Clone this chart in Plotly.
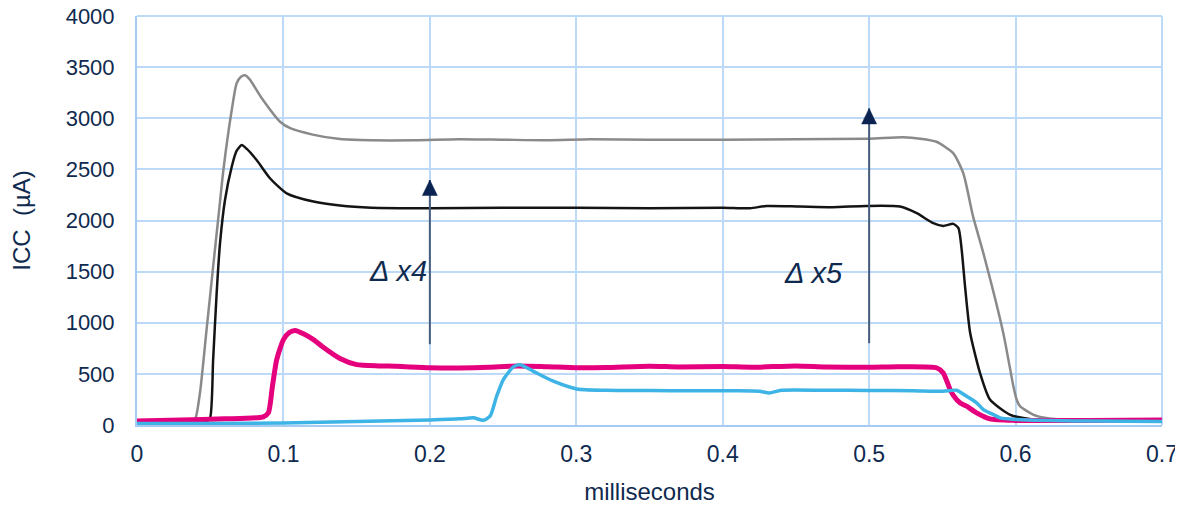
import plotly.graph_objects as go

# ---- data ----
gray_x = [0, 0.02, 0.036, 0.0396, 0.043, 0.0475, 0.052, 0.0555, 0.059, 0.0647, 0.068, 0.071, 0.0738, 0.077,
          0.085, 0.0977, 0.105, 0.12, 0.1386, 0.16, 0.19, 0.22, 0.25, 0.28, 0.31, 0.35, 0.4, 0.45, 0.5,
          0.523, 0.535, 0.546, 0.5575, 0.5643, 0.571, 0.578, 0.5916, 0.5985, 0.6007, 0.603, 0.612, 0.62,
          0.63, 0.66, 0.7]
gray_y = [30, 30, 35, 54, 314, 930, 1550, 2020, 2494, 3080, 3340, 3405, 3421, 3380,
          3200, 2966, 2900, 2840, 2796, 2785, 2785, 2795, 2790, 2785, 2795, 2790, 2790, 2795, 2800,
          2813, 2800, 2770, 2657, 2462, 2038, 1681, 900, 379, 249, 184, 102, 70,
          54, 45, 40]

black_x = [0, 0.03, 0.047, 0.0499, 0.052, 0.0544, 0.0567, 0.0601, 0.0647, 0.068, 0.0715, 0.075, 0.0817,
           0.0908, 0.1022, 0.1205, 0.1386, 0.16, 0.2, 0.25, 0.3, 0.35, 0.4, 0.4186, 0.43, 0.4528, 0.475,
           0.498, 0.521, 0.5325, 0.5438, 0.5506, 0.5575, 0.561, 0.5632, 0.5655, 0.569, 0.5757, 0.5825,
           0.596, 0.612, 0.65, 0.7]
black_y = [30, 30, 35, 70, 640, 1290, 1778, 2201, 2526, 2680, 2738, 2700, 2591,
           2413, 2266, 2185, 2146, 2125, 2120, 2125, 2125, 2120, 2125, 2120, 2142, 2136, 2130,
           2142, 2136, 2071, 1974, 1947, 1967, 1925, 1713, 1355, 900, 510, 249,
           102, 54, 42, 40]

pink_x = [0, 0.03, 0.06, 0.0863, 0.0897, 0.0925, 0.0954, 0.1, 0.104, 0.108, 0.114, 0.1205, 0.1272,
          0.1386, 0.15, 0.165, 0.1773, 0.2, 0.22, 0.24, 0.26, 0.28, 0.3, 0.32, 0.35, 0.37, 0.4, 0.42,
          0.45, 0.47, 0.5, 0.52, 0.546, 0.5506, 0.5552, 0.5575, 0.562, 0.5666, 0.5734, 0.5825, 0.6,
          0.65, 0.7]
pink_y = [40, 50, 60, 80, 119, 380, 639, 835, 905, 925, 890, 835, 760,
          650, 590, 578, 574, 560, 558, 565, 578, 570, 560, 562, 575, 568, 572, 565,
          578, 568, 565, 570, 560, 509, 350, 290, 217, 184, 119, 60, 45,
          45, 50]

cyan_x = [0, 0.05, 0.1, 0.15, 0.2, 0.2206, 0.2297, 0.2365, 0.2411, 0.2456, 0.2502, 0.257, 0.2616,
          0.2707, 0.2843, 0.3003, 0.32, 0.35, 0.38, 0.41, 0.425, 0.432, 0.44, 0.47, 0.5, 0.53, 0.5506,
          0.5597, 0.5666, 0.5734, 0.578, 0.5848, 0.5894, 0.6007, 0.65, 0.7]
cyan_y = [15, 15, 20, 35, 50, 60, 70, 47, 86, 281, 444, 568, 590,
          525, 428, 353, 340, 337, 335, 335, 330, 314, 340, 340, 338, 335, 330,
          340, 281, 217, 151, 102, 70, 54, 38, 35]

# arrows and their labels
arrow_x = [0.2, 0.5]
arrow_y_start = [790, 800]
arrow_y_tip = [2396, 3096]
label_text = ["Δ x4", "Δ x5"]
label_x = [0.178, 0.4617]
label_y = [1508, 1488]

x_ticks = [0, 0.1, 0.2, 0.3, 0.4, 0.5, 0.6, 0.7]
y_ticks = [0, 500, 1000, 1500, 2000, 2500, 3000, 3500, 4000]

NAVY = "#0F2A4F"
FONT = "Liberation Sans, Arial, sans-serif"
GRID = "#BDD9F8"

fig = go.Figure()
series = [
    (gray_x, gray_y, "#8A8A8A", 2.5),
    (black_x, black_y, "#141414", 2.5),
    (pink_x, pink_y, "#E5007E", 5),
    (cyan_x, cyan_y, "#3DB4E5", 3.5),
]
for xs, ys, col, w in series:
    fig.add_trace(go.Scatter(x=xs, y=ys, mode="lines",
                             line=dict(color=col, width=w, shape="spline", smoothing=0.6),
                             showlegend=False, hoverinfo="skip"))

# top and right edge grid lines (plot-area border)
shapes = [
    dict(type="line", xref="x domain", yref="y domain", x0=0, x1=1, y0=1, y1=1,
         line=dict(color=GRID, width=2), layer="below"),
    dict(type="line", xref="x domain", yref="y domain", x0=1, x1=1, y0=0, y1=1,
         line=dict(color=GRID, width=2), layer="below"),
]
annotations = []
for ax_, y0, y1, t, lx, ly in zip(arrow_x, arrow_y_start, arrow_y_tip, label_text, label_x, label_y):
    shapes.append(dict(type="line", xref="x", yref="y", x0=ax_, x1=ax_, y0=y0, y1=y1,
                       line=dict(color="#465C7C", width=2)))
    shapes.append(dict(type="path", xref="x", yref="y", xsizemode="pixel", ysizemode="pixel",
                       xanchor=ax_, yanchor=y1, path="M-7.5,-15.5 L7.5,-15.5 L0,0 Z",
                       fillcolor="#0A2350", line=dict(color="#0A2350", width=0.5)))
    annotations.append(dict(x=lx, y=ly, xref="x", yref="y", text="<i>%s</i>" % t, showarrow=False,
                            font=dict(family=FONT, size=29, color=NAVY)))

# the page body adds an 8px offset, so the figure is sized to fit inside the window
fig.update_layout(
    width=1175, height=497,
    margin=dict(l=129, r=21, t=8, b=80),
    paper_bgcolor="white", plot_bgcolor="white",
    font=dict(family=FONT, color=NAVY, size=23),
    shapes=shapes, annotations=annotations,
    showlegend=False,
)
fig.update_xaxes(range=[0, 0.7], tickvals=x_ticks, ticktext=[("%g" % v) for v in x_ticks],
                 showgrid=True, gridcolor=GRID, gridwidth=2, zeroline=False,
                 showline=True, linecolor="#A6CBF3", linewidth=2, automargin=False,
                 ticks="", ticklabelstandoff=7, ticklabeloverflow="allow",
                 title=dict(text="milliseconds", font=dict(size=24, color=NAVY), standoff=18))
fig.update_yaxes(range=[0, 4000], tickvals=y_ticks, ticktext=[str(v) for v in y_ticks],
                 tickfont=dict(size=22),
                 showgrid=True, gridcolor=GRID, gridwidth=2, zeroline=False,
                 showline=True, linecolor="#A6CBF3", linewidth=2, automargin=False,
                 ticks="", ticklabelstandoff=16, ticklabeloverflow="allow",
                 title=dict(text="ICC  (µA)", font=dict(size=24, color=NAVY), standoff=33))

fig.write_html("out.html")
